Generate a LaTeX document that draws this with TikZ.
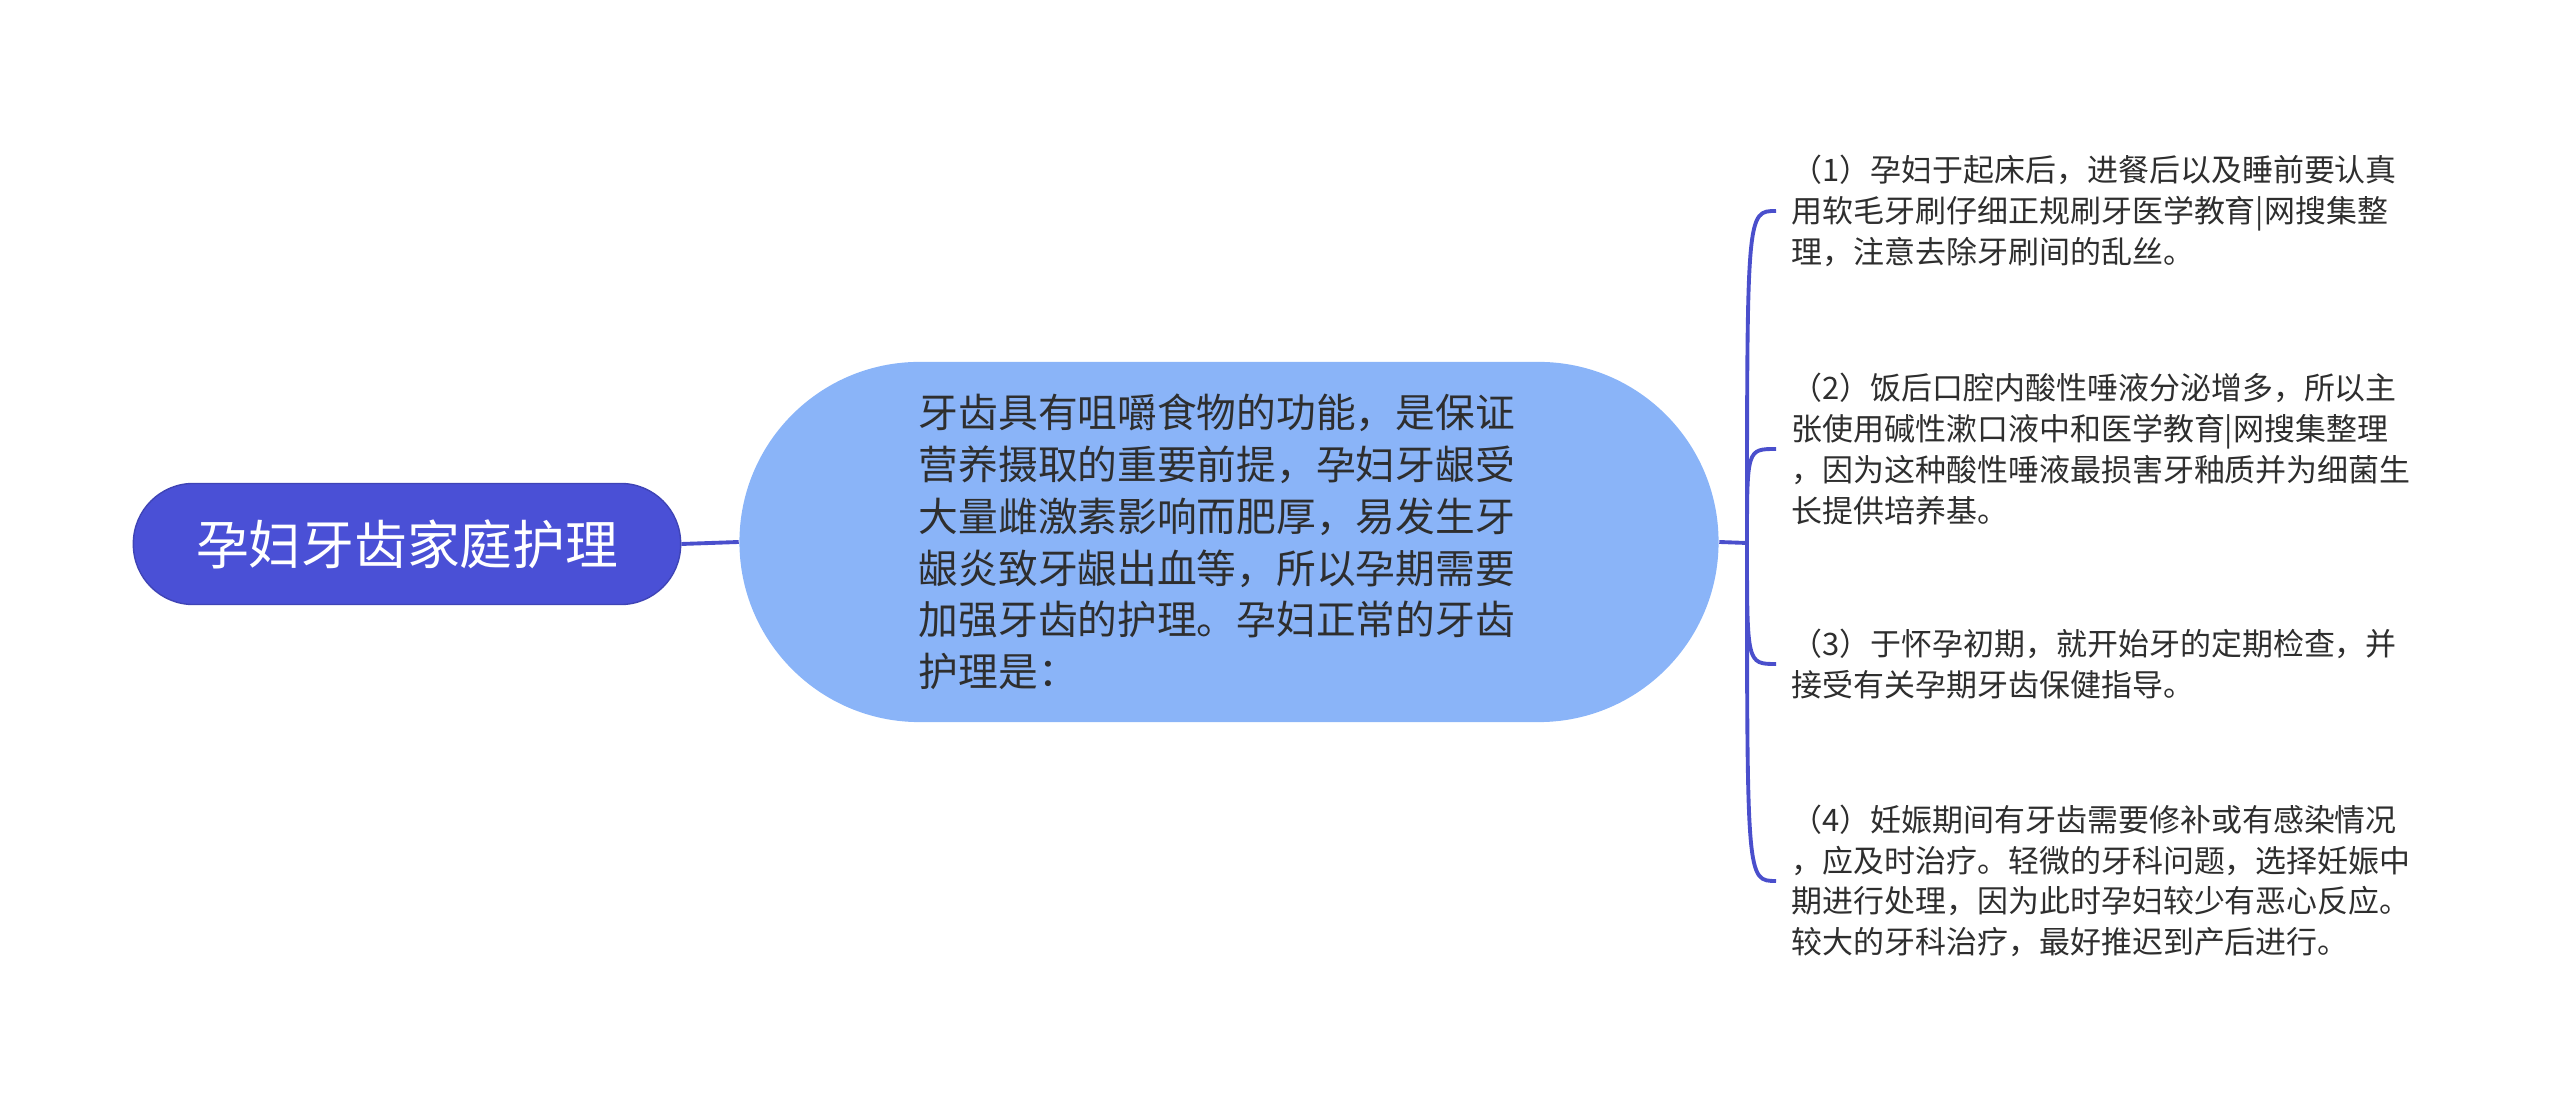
\documentclass[tikz,border=0pt]{standalone}
\usepackage{fontspec}
\setmainfont{Noto Sans CJK SC}
\usetikzlibrary{shapes.misc}

\definecolor{rootblue}{HTML}{4A50D6}
\definecolor{mainblue}{HTML}{8AB4F8}
\definecolor{linkblue}{HTML}{4A4FCC}
\definecolor{textgray}{HTML}{2E2E2E}

\tikzset{
  rootbox/.style={rounded corners=0.6cm, fill=rootblue, draw=rootblue!85!black,
    line width=0.4pt, minimum width=5.47cm, minimum height=1.21cm,
    text=white, font=\fontsize{15}{18}\selectfont},
  mainbox/.style={rounded rectangle, fill=mainblue, minimum width=10.02cm,
    minimum height=3.6cm, text width=6.2cm, align=left, text=textgray,
    font=\fontsize{11.3}{14.7}\selectfont},
  leafbox/.style={anchor=west, inner xsep=0.15cm, inner ysep=0pt, align=left,
    text=textgray, font=\fontsize{8.8}{11.6}\selectfont},
  link/.style={draw=linkblue, line width=1.1pt}
}

\begin{document}
\begin{tikzpicture}[x=0.01cm, y=-0.01cm]
  \useasboundingbox (0,0) rectangle (2560,1107);

  % root and main topic
  \node[rootbox] (root) at (407,544) {孕妇牙齿家庭护理};
  \node[mainbox] (main) at (1229,542) {牙齿具有咀嚼食物的功能，是保证\\
    营养摄取的重要前提，孕妇牙龈受\\
    大量雌激素影响而肥厚，易发生牙\\
    龈炎致牙龈出血等，所以孕期需要\\
    加强牙齿的护理。孕妇正常的牙齿\\
    护理是：};

  % the four points
  \node[leafbox] (p1) at (1776,211) {（1）孕妇于起床后，进餐后以及睡前要认真\\
    用软毛牙刷仔细正规刷牙医学教育|网搜集整\\
    理，注意去除牙刷间的乱丝。};
  \node[leafbox] (p2) at (1776,449) {（2）饭后口腔内酸性唾液分泌增多，所以主\\
    张使用碱性漱口液中和医学教育|网搜集整理\\
    ，因为这种酸性唾液最损害牙釉质并为细菌生\\
    长提供培养基。};
  \node[leafbox] (p3) at (1776,664) {（3）于怀孕初期，就开始牙的定期检查，并\\
    接受有关孕期牙齿保健指导。};
  \node[leafbox] (p4) at (1776,881) {（4）妊娠期间有牙齿需要修补或有感染情况\\
    ，应及时治疗。轻微的牙科问题，选择妊娠中\\
    期进行处理，因为此时孕妇较少有恶心反应。\\
    较大的牙科治疗，最好推迟到产后进行。};

  % connectors
  \coordinate (fork) at (1747,543);
  \draw[link] (root.east) -- (main.west);
  \draw[link] (main.east) -- (fork);
  \foreach \p in {p1,p2,p3,p4}
    \draw[link] (fork) .. controls (fork |- \p.west) .. (\p.west);
\end{tikzpicture}
\end{document}
